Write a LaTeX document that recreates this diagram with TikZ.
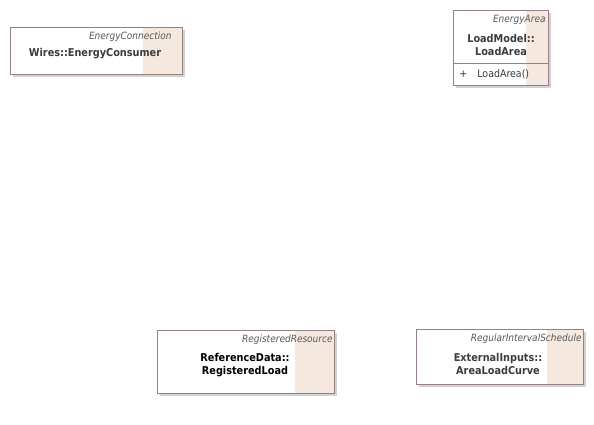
\documentclass[tikz,border=0pt]{standalone}
\usepackage{fontspec}
\setmainfont{DejaVu Sans Condensed}
\usetikzlibrary{positioning,shadows}
\usepackage{xcolor}
\definecolor{umlborder}{RGB}{150,128,128}
\definecolor{umlshade}{RGB}{245,232,222}
\definecolor{umltext}{RGB}{60,60,60}

\begin{document}
\begin{tikzpicture}[x=1pt, y=-1pt, line width=0.8pt,
    classbox/.style={rectangle, draw=umlborder, fill=white, anchor=north west,
      inner sep=0pt, outer sep=0pt,
      drop shadow={shadow xshift=3pt, shadow yshift=-3pt, fill=black!18, opacity=1},
      path picture={\fill[umlshade] ([xshift=-#1]path picture bounding box.north east)
        rectangle (path picture bounding box.south east);}},
    stereo/.style={anchor=east, inner sep=0pt, font=\fontsize{10}{11}\selectfont\itshape, text=umltext!85},
    classname/.style={align=center, inner sep=0pt, font=\fontsize{10.8}{13.5}\selectfont\bfseries, text=umltext},
    oper/.style={anchor=west, inner sep=0pt, font=\fontsize{10.5}{12}\selectfont, text=umltext}]
  \useasboundingbox (0,0) rectangle (594,424);

  % EnergyConsumer
  \node[classbox=39pt, minimum width=172pt, minimum height=47pt] (consumer) at (10,27) {};
  \node[stereo] (consumerst) at (172,37) {EnergyConnection};
  \node[classname] (consumername) at (95,54) {Wires::EnergyConsumer};

  % LoadArea
  \node[classbox=22pt, minimum width=95pt, minimum height=75pt] (area) at (453,10) {};
  \draw[umlborder] (453,63) -- (548,63);
  \node[stereo] (areast) at (546,20) {EnergyArea};
  \node[classname] (areaname) at (501,45) {LoadModel::\\LoadArea};
  \node[oper] (areaplus) at (459,74) {+};
  \node[oper] (areaop) at (477,74) {LoadArea()};

  % RegisteredLoad
  \node[classbox=39pt, minimum width=177pt, minimum height=63pt] (regload) at (157,330) {};
  \node[stereo] (regloadst) at (333,340) {RegisteredResource};
  \node[classname, text=black] (regloadname) at (245,365) {ReferenceData::\\RegisteredLoad};

  % AreaLoadCurve
  \node[classbox=36pt, minimum width=167pt, minimum height=55pt] (curve) at (416,329) {};
  \node[stereo] (curvest) at (582,339) {RegularIntervalSchedule};
  \node[classname] (curvename) at (498,364) {ExternalInputs::\\AreaLoadCurve};
\end{tikzpicture}
\end{document}
